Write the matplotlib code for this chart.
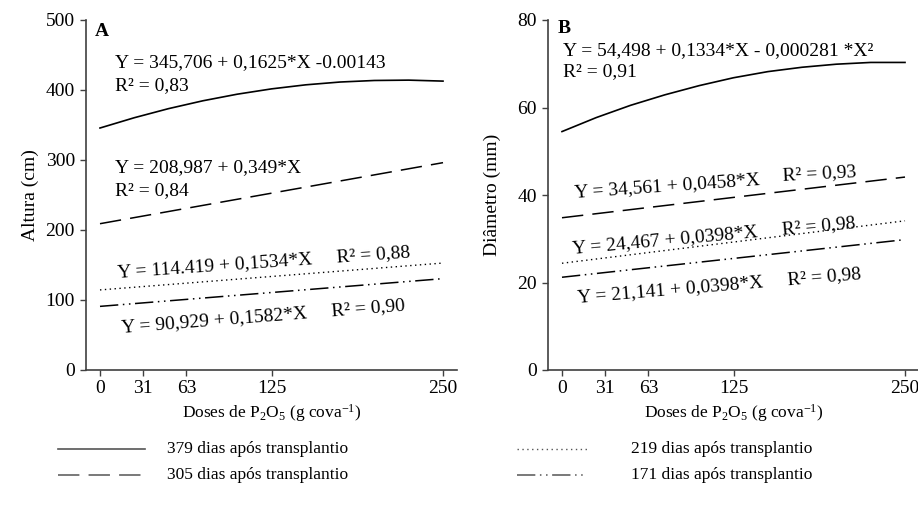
import matplotlib
matplotlib.use("Agg")
import matplotlib.pyplot as plt
from matplotlib.lines import Line2D

plt.rcParams['font.family'] = ['Liberation Serif', 'DejaVu Serif']
plt.rcParams['mathtext.fontset'] = 'custom'
plt.rcParams['mathtext.rm'] = 'Liberation Serif'
plt.rcParams['mathtext.it'] = 'Liberation Serif:italic'

# ---- data ----
doses_ticks = [0, 31, 63, 125, 250]
x_curve = [0, 25, 50, 75, 100, 125, 150, 175, 200, 225, 250]
x_line = [0, 250]

# Panel A - Altura (cm)
altura_379 = [345.7, 360.4, 373.4, 384.6, 394.0, 401.6, 407.4, 411.4, 413.6, 414.1, 412.7]
altura_305 = [209.0, 296.2]
altura_219 = [114.4, 152.8]
altura_171 = [90.9, 130.5]

# Panel B - Diametro (mm)
diam_379 = [54.5, 57.7, 60.5, 62.9, 65.0, 66.8, 68.2, 69.2, 69.9, 70.3, 70.3]
diam_305 = [34.8, 44.1]
diam_219 = [24.4, 34.1]
diam_171 = [21.2, 29.8]

legend_labels = ['379 dias após transplantio', '305 dias após transplantio',
                 '219 dias após transplantio', '171 dias após transplantio']

W, H = 918, 519
fig = plt.figure(figsize=(W / 100, H / 100), dpi=100)

FS = 14
FS_SMALL = 12.5
SPINE = '#404040'

styles = {
    '379': dict(color='black', lw=1.2, ls='-'),
    '305': dict(color='black', lw=1.1, ls=(0, (14, 6))),
    '219': dict(color='black', lw=1.0, ls=(0, (1, 2.5))),
    '171': dict(color='black', lw=1.1, ls=(0, (12, 3, 1, 3, 1, 3))),
}


def px_axes(left, right, bottom, top):
    return [left / W, 1 - bottom / H, (right - left) / W, (bottom - top) / H]


def setup(ax, ymax, ystep):
    ax.set_xlim(-10.2, 260.2)
    ax.set_ylim(0, ymax)
    for s in ['top', 'right']:
        ax.spines[s].set_visible(False)
    for s in ['left', 'bottom']:
        ax.spines[s].set_color(SPINE)
        ax.spines[s].set_linewidth(1.2)
    ax.set_xticks(doses_ticks)
    ax.set_xticklabels([str(v) for v in doses_ticks])
    ax.set_yticks(list(range(0, ymax + 1, ystep)))
    ax.tick_params(axis='both', direction='out', length=4, width=1, color=SPINE,
                   labelsize=FS)
    ax.tick_params(axis='x', pad=3)
    ax.tick_params(axis='y', pad=4)
    ax.set_xlabel(r'Doses de P$_2$O$_5$ (g cova$^{-1}$)', fontsize=FS_SMALL, labelpad=4)


# ---- Panel A ----
axA = fig.add_axes(px_axes(86, 457, 370, 20))
setup(axA, 500, 100)
axA.plot(x_curve, altura_379, **styles['379'])
axA.plot(x_line, altura_305, **styles['305'])
axA.plot(x_line, altura_219, **styles['219'])
axA.plot(x_line, altura_171, **styles['171'])
axA.text(-3.5, 484, 'A', fontsize=FS, fontweight='bold', va='center')
axA.text(11, 439, 'Y = 345,706 + 0,1625*X -0.00143', fontsize=FS, va='center')
axA.text(11, 406, 'R² = 0,83', fontsize=FS, va='center')
axA.text(11, 289, 'Y = 208,987 + 0,349*X', fontsize=FS, va='center')
axA.text(11, 256, 'R² = 0,84', fontsize=FS, va='center')
axA.text(13, 132, 'Y = 114.419 + 0,1534*X     R² = 0,88', fontsize=FS,
         rotation=4, rotation_mode='anchor', va='baseline', ha='left')
axA.text(16, 54, 'Y = 90,929 + 0,1582*X     R² = 0,90', fontsize=FS,
         rotation=4.5, rotation_mode='anchor', va='baseline', ha='left')
fig.text(30 / W, 1 - 195 / H, 'Altura (cm)', rotation=90, fontsize=FS,
         ha='center', va='center')

# ---- Panel B ----
axB = fig.add_axes(px_axes(548, 919, 370, 20))
setup(axB, 80, 20)
axB.plot(x_curve, diam_379, **styles['379'])
axB.plot(x_line, diam_305, **styles['305'])
axB.plot(x_line, diam_219, **styles['219'])
axB.plot(x_line, diam_171, **styles['171'])
axB.text(-3, 78, 'B', fontsize=FS, fontweight='bold', va='center')
axB.text(0.7, 73.1, 'Y = 54,498 + 0,1334*X - 0,000281 *X²', fontsize=FS, va='center')
axB.text(0.7, 68.1, 'R² = 0,91', fontsize=FS, va='center')
axB.text(9.5, 39.5, 'Y = 34,561 + 0,0458*X', fontsize=FS,
         rotation=4, rotation_mode='anchor', va='baseline', ha='left')
axB.text(161, 43.4, 'R² = 0,93', fontsize=FS,
         rotation=3, rotation_mode='anchor', va='baseline', ha='left')
axB.text(8, 26.7, 'Y = 24,467 + 0,0398*X     R² = 0,98', fontsize=FS,
         rotation=5.2, rotation_mode='anchor', va='baseline', ha='left')
axB.text(11.7, 15.5, 'Y = 21,141 + 0,0398*X     R² = 0,98', fontsize=FS,
         rotation=4.8, rotation_mode='anchor', va='baseline', ha='left')
fig.text(492 / W, 1 - 195 / H, 'Diâmetro (mm)', rotation=90, fontsize=FS,
         ha='center', va='center')

# ---- legend (bottom) ----
leg_items = [
    ('379', 58, 145, 167, 449),
    ('305', 58, 145, 167, 475),
    ('219', 517, 587, 631, 449),
    ('171', 517, 587, 631, 475),
]
for (key, x0, x1, tx, y), lab in zip(leg_items, legend_labels):
    st = styles[key]
    fig.add_artist(Line2D([x0 / W, x1 / W], [1 - y / H, 1 - y / H],
                          transform=fig.transFigure, color='#555555',
                          lw=st['lw'], ls=st['ls']))
    fig.text(tx / W, 1 - y / H, lab, fontsize=FS_SMALL, va='center', ha='left')

fig.savefig('out.png', dpi=100)
